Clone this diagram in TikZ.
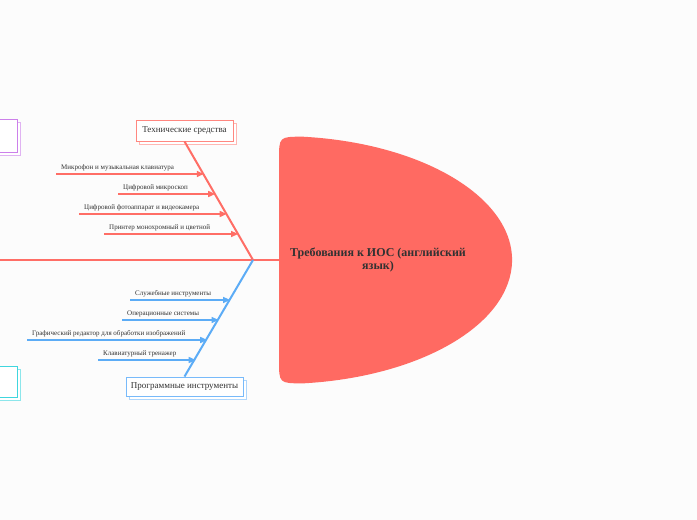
\documentclass[tikz,border=0pt]{standalone}
\usepackage{fontspec}
\setmainfont{Liberation Serif}
\usetikzlibrary{arrows.meta,shadows}

\definecolor{bgcol}{RGB}{252,252,252}
\definecolor{headcol}{RGB}{255,106,98}
\definecolor{redcol}{RGB}{255,110,102}
\definecolor{redbox}{RGB}{255,135,128}
\definecolor{bluecol}{RGB}{92,172,246}
\definecolor{bluebox}{RGB}{120,186,250}
\definecolor{purplecol}{RGB}{204,128,234}
\definecolor{cyancol}{RGB}{64,214,222}
\definecolor{textcol}{RGB}{50,50,50}

\begin{document}
\begin{tikzpicture}[x=1pt, y=1pt,
box/.style={draw=#1, fill=white, line width=0.9pt, text=textcol, inner sep=0pt,
  font=\fontsize{9}{10}\selectfont,
  general shadow={draw=#1!60, fill=white, line width=0.9pt, shadow xshift=3pt, shadow yshift=-3pt}},
lbl/.style={text=textcol, font=\fontsize{7}{8}\selectfont, inner sep=0pt, anchor=base west},
redarr/.style={draw=redcol, line width=1.5pt, -{Triangle[length=7pt,width=6pt]}},
bluearr/.style={draw=bluecol, line width=1.5pt, -{Triangle[length=7pt,width=6pt]}}
]

% background
\fill[bgcol] (0,0) rectangle (697,520);
\useasboundingbox (0,0) rectangle (697,520);
\clip (0,0) rectangle (697,520);

% ---------- HEAD ----------
\fill[headcol] (303,383.3) arc[start angle=84.1, end angle=-84.1, x radius=233, y radius=124]
  .. controls (279,136.7) .. (279,160) -- (279,360) .. controls (279,383.3) .. (303,383.3) -- cycle;
\node[text=textcol, align=center, font=\fontsize{12}{13}\selectfont\bfseries] (head) at (378,260)
  {Требования к ИОС (английский\\язык)};

% spine
\coordinate (tail) at (0,260);
\coordinate (headleft) at (279,260);
\coordinate (joint) at (253,260);
\draw[redcol, line width=2pt] (tail) -- (headleft);

% ---------- TOP: HARDWARE ----------
\node[box=redbox, minimum width=97pt, minimum height=21pt] (tech) at (184.5,389.5) {Технические средства};
\draw[redcol, line width=2pt] (tech.south) -- (joint);

\coordinate (r1a) at (56,346);  \coordinate (r1b) at (203.8,346);
\coordinate (r2a) at (118,326); \coordinate (r2b) at (215.2,326);
\coordinate (r3a) at (79,306);  \coordinate (r3b) at (226.7,306);
\coordinate (r4a) at (104,286); \coordinate (r4b) at (238.1,286);

\draw[redarr] (r1a) -- (r1b);
\draw[redarr] (r2a) -- (r2b);
\draw[redarr] (r3a) -- (r3b);
\draw[redarr] (r4a) -- (r4b);

\node[lbl] (r1) at (61,350.5) {Микрофон и музыкальная клавиатура};
\node[lbl] (r2) at (123,330.5) {Цифровой микроскоп};
\node[lbl] (r3) at (84,310.5) {Цифровой фотоаппарат и видеокамера};
\node[lbl] (r4) at (109,290.5) {Принтер монохромный и цветной};

% ---------- BOTTOM: SOFTWARE ----------
\node[box=bluebox, minimum width=117pt, minimum height=19pt] (soft) at (184.5,133.5) {Программные инструменты};
\draw[bluecol, line width=2pt] (soft.north) -- (joint);

\coordinate (b1a) at (130,220); \coordinate (b1b) at (230.1,220);
\coordinate (b2a) at (122,200); \coordinate (b2b) at (218.6,200);
\coordinate (b3a) at (27,180);  \coordinate (b3b) at (207.2,180);
\coordinate (b4a) at (98,160);  \coordinate (b4b) at (195.7,160);

\draw[bluearr] (b1a) -- (b1b);
\draw[bluearr] (b2a) -- (b2b);
\draw[bluearr] (b3a) -- (b3b);
\draw[bluearr] (b4a) -- (b4b);

\node[lbl] (b1) at (135,224.5) {Служебные инструменты};
\node[lbl] (b2) at (127,204.5) {Операционные системы};
\node[lbl] (b3) at (32,184.5) {Графический редактор для обработки изображений};
\node[lbl] (b4) at (103,164.5) {Клавиатурный тренажер};

% ---------- LEFT: cut-off boxes ----------
\node[box=purplecol, minimum width=40pt, minimum height=33pt] (leftup) at (-3,384.5) {};
\node[box=cyancol, minimum width=40pt, minimum height=31pt] (leftdown) at (-3,138.5) {};

\end{tikzpicture}
\end{document}
